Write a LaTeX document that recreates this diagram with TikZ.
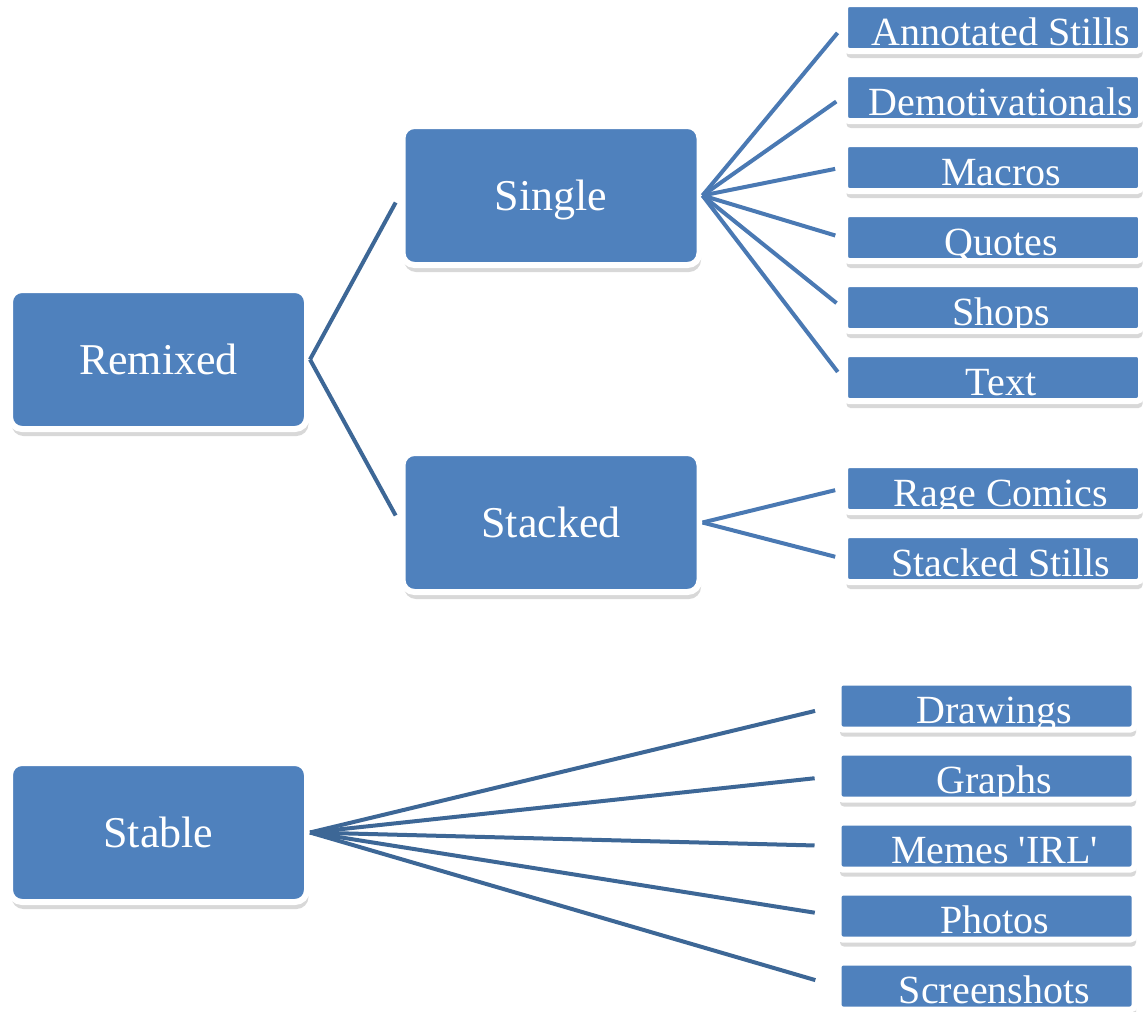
\documentclass[tikz,border=0pt]{standalone}
\usepackage{fontspec}
\setmainfont{Liberation Serif}
\usetikzlibrary{positioning,shadows}

\definecolor{boxblue}{HTML}{4F81BD}
\definecolor{linkdark}{HTML}{3D6796}
\definecolor{linklight}{HTML}{4A79B3}

\begin{document}
\begin{tikzpicture}[x=1pt,y=-1pt,node distance=70pt,
    box/.style={draw=white,line width=6pt,fill=boxblue,text=white,inner sep=0pt,
      drop shadow={shadow xshift=1.5pt,shadow yshift=-7pt,opacity=0.22,fill=black!70}},
    group/.style={box,rounded corners=12pt,minimum width=297pt,minimum height=139pt,
      text depth=0pt,font=\fontsize{44}{50}\selectfont},
    leaf/.style={box,rounded corners=4pt,minimum width=296pt,
      text height=41pt,text depth=6pt,font=\fontsize{40}{44}\selectfont,
      execute at begin node=\hspace*{16pt}},
    link/.style={line width=4pt,draw=linkdark}]
    \useasboundingbox (0,0) rectangle (1144,1012);

    % groups
    \node[group] (remixed) at (158.5,359.5) {Remixed};
    \node[group] (single)  at (551,195.5)   {Single};
    \node[group] (stacked) at (551,522.5)   {Stacked};
    \node[group] (stable)  at (158.5,832.5) {Stable};

    % leaves
    \node[leaf] (annot) at (993,27.5) {Annotated Stills};
    \node[leaf] (demot)  [below of=annot]  {Demotivationals};
    \node[leaf] (macros) [below of=demot]  {Macros};
    \node[leaf] (quotes) [below of=macros] {Quotes};
    \node[leaf] (shops)  [below of=quotes] {Shops};
    \node[leaf] (txt)    [below of=shops]  {Text};

    \node[leaf] (rage) at (993,488.5) {Rage Comics};
    \node[leaf] (stills) [below of=rage] {Stacked Stills};

    \node[leaf] (drawings) at (986.5,706) {Drawings};
    \node[leaf] (graphs) [below of=drawings] {Graphs};
    \node[leaf] (irl)    [below of=graphs]   {Memes \textquotesingle IRL\textquotesingle};
    \node[leaf] (photos) [below of=irl]      {Photos};
    \node[leaf] (shots)  [below of=photos]   {Screenshots};

    \path[link,shorten >=8pt]
    (remixed.east) edge (single.west)
    (remixed.east) edge (stacked.west)
    ;
    \path[link,draw=linklight,shorten >=7pt]
    (single.east) edge (annot.west)
    (single.east) edge (demot.west)
    (single.east) edge (macros.west)
    (single.east) edge (quotes.west)
    (single.east) edge (shops.west)
    (single.east) edge (txt.west)
    (stacked.east) edge (rage.west)
    (stacked.east) edge (stills.west)
    ;
    \path[link,shorten >=21pt]
    (stable.east) edge (drawings.west)
    (stable.east) edge (graphs.west)
    (stable.east) edge (irl.west)
    (stable.east) edge (photos.west)
    (stable.east) edge (shots.west)
    ;
\end{tikzpicture}
\end{document}
